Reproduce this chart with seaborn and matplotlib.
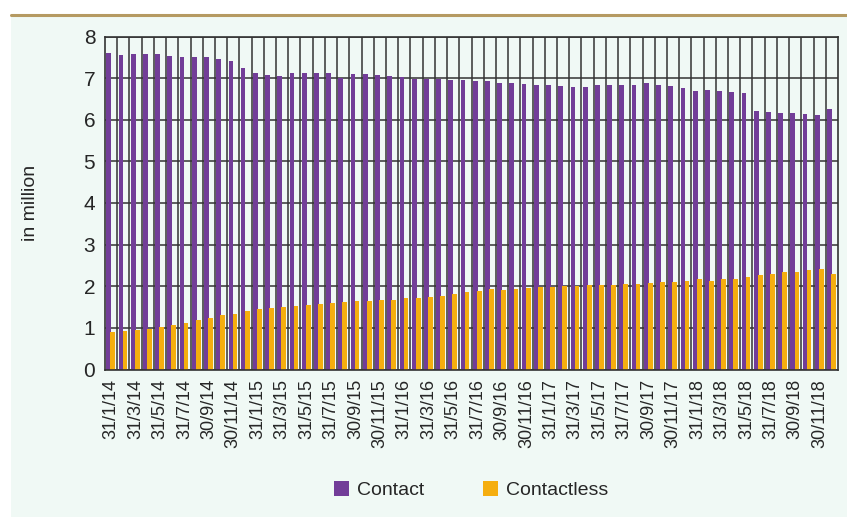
import numpy as np
import pandas as pd
import matplotlib
matplotlib.use("Agg")
import matplotlib.pyplot as plt
import seaborn as sns
from matplotlib.patches import Rectangle
from matplotlib.lines import Line2D

# Month-end dates, Jan 2014 - Dec 2018
month_ends = [31, 28, 31, 30, 31, 30, 31, 31, 30, 31, 30, 31]
years = [14, 15, 16, 17, 18]
dates = [f"{month_ends[m]}/{m + 1}/{y}" for y in years for m in range(12)]

# Cards in circulation (million)
contact = [
    7.60, 7.55, 7.57, 7.57, 7.57, 7.53, 7.50, 7.50, 7.50, 7.45, 7.41, 7.24,
    7.12, 7.07, 7.05, 7.12, 7.12, 7.12, 7.12, 7.01, 7.09, 7.09, 7.07, 7.05,
    7.02, 6.97, 6.97, 6.97, 6.95, 6.95, 6.93, 6.93, 6.88, 6.88, 6.85, 6.83,
    6.83, 6.81, 6.78, 6.78, 6.83, 6.83, 6.83, 6.83, 6.88, 6.83, 6.81, 6.76,
    6.69, 6.71, 6.69, 6.66, 6.64, 6.21, 6.18, 6.16, 6.16, 6.13, 6.11, 6.25,
]
contactless = [
    0.91, 0.93, 0.95, 0.98, 1.03, 1.08, 1.12, 1.19, 1.24, 1.31, 1.34, 1.41,
    1.46, 1.48, 1.51, 1.53, 1.55, 1.58, 1.60, 1.63, 1.65, 1.65, 1.67, 1.67,
    1.72, 1.72, 1.75, 1.77, 1.82, 1.87, 1.89, 1.94, 1.91, 1.94, 1.96, 1.99,
    1.99, 2.01, 2.01, 2.03, 2.03, 2.03, 2.06, 2.06, 2.08, 2.11, 2.11, 2.13,
    2.18, 2.13, 2.18, 2.18, 2.23, 2.27, 2.30, 2.35, 2.35, 2.39, 2.42, 2.30,
]
series_names = ["Contact", "Contactless"]
y_ticks = list(range(0, 9))

PURPLE = "#723d98"
ORANGE = "#f5ae0f"
BG = "#f0f9f5"
GRID = "#333333"
TEXT = "#262626"

df = pd.DataFrame({
    "date": dates * 2,
    "value": contact + contactless,
    "type": [series_names[0]] * len(dates) + [series_names[1]] * len(dates),
})

sns.set_theme(style="white")
plt.rcParams["font.family"] = ["Liberation Sans", "DejaVu Sans"]
plt.rcParams["text.color"] = TEXT
plt.rcParams["axes.labelcolor"] = TEXT
plt.rcParams["xtick.color"] = TEXT
plt.rcParams["ytick.color"] = TEXT

fig = plt.figure(figsize=(8.47, 5.17), dpi=100, facecolor="white")
# mint panel under a thin brown rule
fig.patches.append(Rectangle((11 / 847, 0), 1 - 11 / 847, 1 - 15 / 517,
                             transform=fig.transFigure, facecolor=BG,
                             edgecolor="none", zorder=-5))
fig.lines.append(Line2D([11 / 847, 1], [1 - 14.5 / 517, 1 - 14.5 / 517],
                        transform=fig.transFigure, color="#b59a62",
                        linewidth=2.2, zorder=-4))

ax = fig.add_axes([105 / 847, 1 - 369.5 / 517, 733 / 847, 333 / 517])
ax.set_zorder(2)
ax.set_facecolor(BG)

sns.barplot(data=df, x="date", y="value", hue="type", order=dates,
            palette=[PURPLE, ORANGE], saturation=1, width=0.78, dodge=True,
            errorbar=None, ax=ax, legend=False, linewidth=0)

# contactless bars sit slightly over the contact bars
for patch in ax.containers[1]:
    patch.set_x(patch.get_x() - 0.06)

ax.set_xlim(-0.5, len(dates) - 0.5)
ax.set_ylim(0, 8)
ax.set_yticks(y_ticks)
ax.set_yticklabels([str(t) for t in y_ticks], fontsize=15)
ax.set_xticks(range(0, len(dates), 2))
ax.set_xticklabels(dates[::2], rotation=90, fontsize=13)
ax.set_xticks(np.arange(0.5, len(dates) - 0.5, 1), minor=True)
ax.tick_params(axis="both", which="both", length=0)
ax.tick_params(axis="x", pad=7)
ax.tick_params(axis="y", pad=7)

ax.set_axisbelow(True)
ax.grid(axis="y", which="major", color=GRID, linewidth=1.1)
ax.grid(axis="x", which="minor", color=GRID, linewidth=1.1)
ax.grid(axis="x", which="major", visible=False)

for side in ["left", "right", "bottom", "top"]:
    ax.spines[side].set_visible(True)
    ax.spines[side].set_color(GRID)
    ax.spines[side].set_linewidth(1.2)

ax.set_xlabel("")
ax.set_ylabel("in million", fontsize=14)
ax.yaxis.set_label_coords(-0.09, 0.5)

handles = [Rectangle((0, 0), 1, 1, facecolor=c, edgecolor="none")
           for c in (PURPLE, ORANGE)]
fig.legend(handles, series_names, loc="center", ncol=2,
           bbox_to_anchor=(471 / 847, 1 - 490 / 517), frameon=False,
           fontsize=14, handlelength=0.8, handleheight=0.8,
           handletextpad=0.4, columnspacing=3.0)

fig.savefig("out.png", dpi=100, facecolor="white")
